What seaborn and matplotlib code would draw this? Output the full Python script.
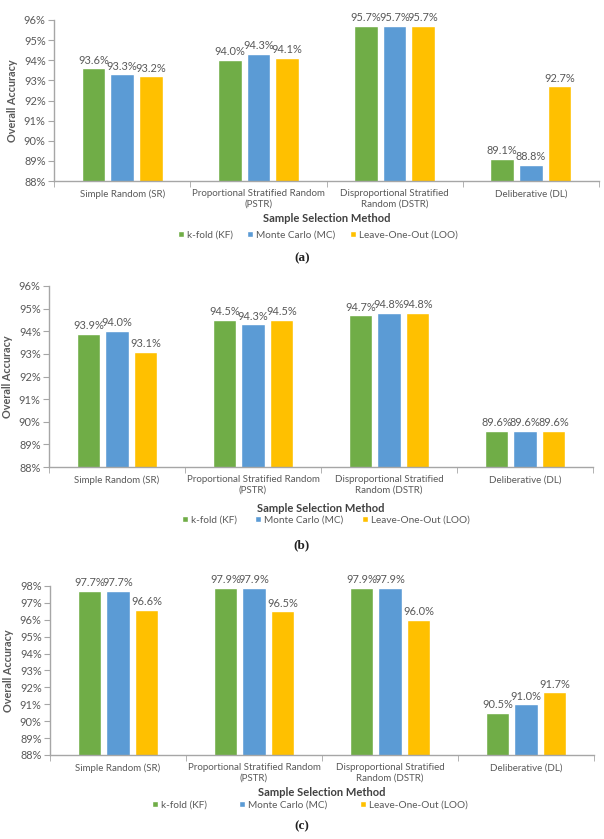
import numpy as np
import pandas as pd
import matplotlib
matplotlib.use("Agg")
import matplotlib.pyplot as plt
import seaborn as sns

# --- data -------------------------------------------------------------
methods = ["Simple Random (SR)",
           "Proportional Stratified Random\n(PSTR)",
           "Disproportional Stratified\nRandom (DSTR)",
           "Deliberative (DL)"]
schemes = ["k-fold (KF)", "Monte Carlo (MC)", "Leave-One-Out (LOO)"]

a_kf = [93.6, 94.0, 95.7, 89.1]
a_mc = [93.3, 94.3, 95.7, 88.8]
a_loo = [93.2, 94.1, 95.7, 92.7]

b_kf = [93.9, 94.5, 94.7, 89.6]
b_mc = [94.0, 94.3, 94.8, 89.6]
b_loo = [93.1, 94.5, 94.8, 89.6]

c_kf = [97.7, 97.9, 97.9, 90.5]
c_mc = [97.7, 97.9, 97.9, 91.0]
c_loo = [96.6, 96.5, 96.0, 91.7]

palette = ["#70AD47", "#5B9BD5", "#FFC000"]
TXT = "#595959"
SPINE = "#A6A6A6"

sns.set_style("white")
plt.rcParams["font.family"] = ["Lato", "DejaVu Sans"]

W, H = 604, 839
fig = plt.figure(figsize=(W / 100, H / 100), dpi=100)


def px_axes(left, right, top, bottom):
    return fig.add_axes([left / W, (H - bottom) / H, (right - left) / W, (bottom - top) / H])


def panel(box, kf, mc, loo, ymax, xlab_y, leg, cap_y, cap):
    left, right, top, bottom = box
    leg_x, leg_y, colsp = leg
    ax = px_axes(left, right, top, bottom)
    df = pd.DataFrame({
        "method": methods * 3,
        "scheme": np.repeat(schemes, len(methods)),
        "acc": kf + mc + loo,
    })
    sns.barplot(data=df, x="method", y="acc", hue="scheme", palette=palette,
                width=0.63, gap=0.17, ax=ax, saturation=1, legend=True)
    ax.set_ylim(88, ymax)
    ax.set_xlim(-0.5, 3.5)
    ticks = np.arange(88, ymax + 0.1, 1)
    ax.set_yticks(ticks)
    ax.set_yticklabels([f"{v:.0f}%" for v in ticks])
    for cont in ax.containers:
        ax.bar_label(cont, fmt="{:.1f}%", padding=2, fontsize=7.9, color=TXT)

    sns.despine(ax=ax)
    for s in ["left", "bottom"]:
        ax.spines[s].set_color(SPINE)
        ax.spines[s].set_linewidth(1.0)
    ax.tick_params(axis="y", colors=TXT, labelsize=7.9, length=4, color=SPINE, pad=2, left=True)
    ax.tick_params(axis="x", which="major", length=0, labelsize=7.0, labelcolor=TXT, pad=6)
    ax.set_xticks([-0.5, 0.5, 1.5, 2.5, 3.5], minor=True)
    ax.tick_params(axis="x", which="minor", length=4, color=SPINE, direction="out", bottom=True)

    ax.set_ylabel("Overall Accuracy", fontsize=7.8, fontweight="bold", color=TXT, labelpad=4)
    ax.set_xlabel("Sample Selection Method", fontsize=8.0, fontweight="bold", color="#404040")
    ax.xaxis.label.set_va("center")
    ax.xaxis.set_label_coords(0.5, (bottom - xlab_y) / (bottom - top))

    handles, labels = ax.get_legend_handles_labels()
    ax.legend(handles, labels, ncol=3, frameon=False, loc="center",
              bbox_to_anchor=(leg_x / W, (H - leg_y) / H), bbox_transform=fig.transFigure,
              fontsize=7.2, handlelength=0.6, handleheight=0.6, handletextpad=0.3,
              columnspacing=colsp, labelcolor=TXT)

    fig.text(0.5, (H - cap_y) / H, cap, ha="center", va="center",
             fontsize=9.5, fontweight="bold", family="Liberation Serif", color="#222222")
    return ax


panel((54, 599, 20, 181), a_kf, a_mc, a_loo, 96, 218, (318, 235, 1.4), 258, "(a)")
panel((49, 593, 286, 467), b_kf, b_mc, b_loo, 96, 508, (326, 520, 1.8), 545, "(b)")
panel((50, 594, 586, 755), c_kf, c_mc, c_loo, 98, 793, (310, 805, 3.2), 826, "(c)")

fig.savefig("out.png", dpi=100)
